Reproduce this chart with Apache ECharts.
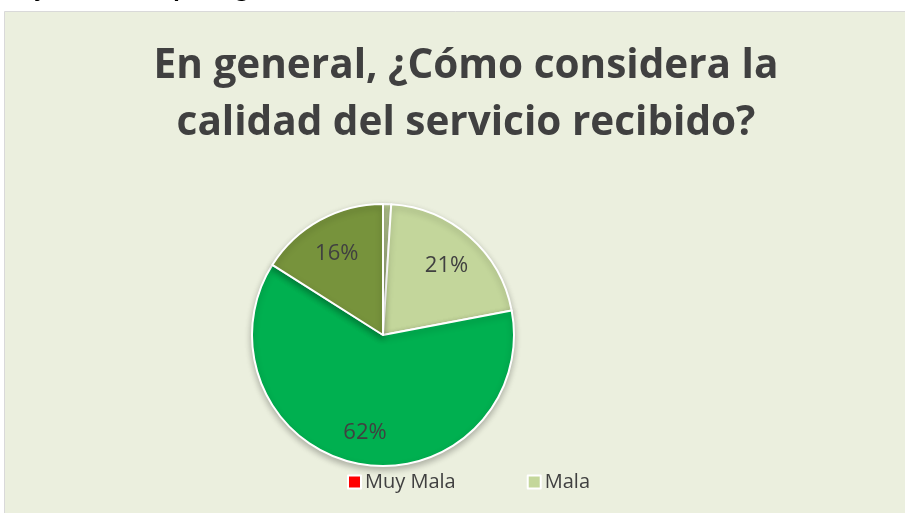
<!DOCTYPE html>
<html>

<head>
    <meta charset="utf-8">
    <title>Calidad del servicio</title>
    <script src="https://cdn.jsdelivr.net/npm/echarts@6/dist/echarts.min.js"></script>
    <style>
        body { margin: 0; background: #fff; }
    </style>
</head>

<body>
    <div id="pieChart" style="width: 905px; height: 513px;"></div>

    <script>
        var pieChart = echarts.init(document.getElementById('pieChart'));

        // categorías y porcentajes
        var categories = ['Muy Mala', 'Mala', 'Regular', 'Buena', 'Muy Buena'];
        var values = [0, 1, 21, 62, 16];
        var colors = ['#FF0000', '#C4D79B', '#C3D69B', '#00B050', '#77933C'];

        // solo se ven dos entradas de la leyenda
        var legendItems = ['Muy Mala', 'Mala'];

        var titleText = 'En general, ¿Cómo considera la\ncalidad del servicio recibido?';

        var pieData = categories.map(function (name, i) {
            return { name: name, value: values[i] };
        });

        var options = {
            backgroundColor: '#ffffff',
            animation: false,
            color: colors,
            graphic: [
                {
                    type: 'rect',
                    z: -10,
                    shape: { x: 4.5, y: 11.5, width: 905, height: 510 },
                    style: { fill: '#EBEFDE', stroke: '#D9D9D9', lineWidth: 1 }
                },
                {
                    // pie de figura cortado arriba
                    type: 'text',
                    left: 0,
                    top: -21,
                    style: {
                        text: 'Gráfico 10. Percepción general del servicio recibido',
                        fontFamily: 'Open Sans',
                        fontStyle: 'italic',
                        fontWeight: 'bold',
                        fontSize: 22,
                        fill: '#000'
                    }
                }
            ],
            title: {
                text: titleText,
                left: 461,
                top: 33,
                textAlign: 'center',
                textStyle: {
                    fontFamily: 'Open Sans',
                    fontWeight: 'bold',
                    fontSize: 40.5,
                    lineHeight: 57,
                    color: '#404040'
                }
            },
            legend: {
                data: legendItems,
                left: 342,
                top: 467,
                icon: 'rect',
                itemWidth: 13,
                itemHeight: 13,
                itemGap: 71,
                itemStyle: { borderColor: '#ffffff', borderWidth: 2 },
                textStyle: {
                    fontFamily: 'Open Sans',
                    fontSize: 20,
                    color: '#404040',
                    padding: [0, 0, 0, -1]
                }
            },
            series: [
                {
                    type: 'pie',
                    center: [383, 335],
                    radius: [0, 131],
                    startAngle: 90,
                    clockwise: true,
                    avoidLabelOverlap: false,
                    label: { show: false },
                    labelLine: { show: false },
                    itemStyle: {
                        borderColor: '#ffffff',
                        borderWidth: 2,
                        shadowBlur: 6,
                        shadowOffsetY: 3,
                        shadowColor: 'rgba(0,0,0,0.25)'
                    },
                    data: pieData
                },
                {
                    // capa transparente para colocar las etiquetas
                    type: 'pie',
                    silent: true,
                    center: [383, 338],
                    radius: [55, 131],
                    startAngle: 90,
                    clockwise: true,
                    avoidLabelOverlap: false,
                    itemStyle: { color: 'transparent', borderWidth: 0 },
                    label: {
                        show: true,
                        position: 'inside',
                        fontFamily: 'Open Sans',
                        fontSize: 22,
                        color: '#404040',
                        formatter: function (p) {
                            return p.value >= 5 ? p.value + '%' : '';
                        }
                    },
                    labelLine: { show: false },
                    data: pieData
                }
            ]
        };

        pieChart.setOption(options);
    </script>
</body>

</html>
